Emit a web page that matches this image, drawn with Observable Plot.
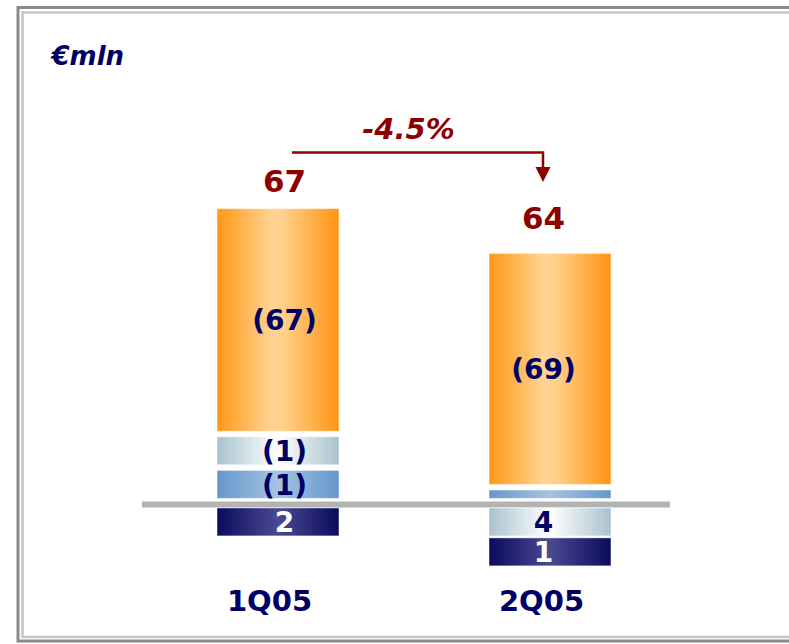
<!DOCTYPE html>
<html><head><meta charset="utf-8">
<script src="https://cdn.jsdelivr.net/npm/d3@7"></script>
<script src="https://cdn.jsdelivr.net/npm/@observablehq/plot@0.6"></script>
<style>body{margin:0;background:#fff;} #chart svg{display:block;}</style>
</head><body><div id="chart"></div>
<script>
// ---- data (€mln) ----
const categories = ["1Q05", "2Q05"];
// signed components: negatives are stacked above the line, positives below
const navyValues   = [2, 1];
const lightValues  = [-1, 4];
const mediumValues = [-1, 0];
const orangeValues = [-67, -69];
const totals = [67, 64];
const changeLabel = "-4.5%";
const unitLabel = "€mln";
// drawn segment lengths (the original chart is not drawn to scale)
const navyDrawn   = [1, 1];
const lightDrawn  = [1, 1];
const mediumDrawn = [1, 0.3];
const orangeDrawn = [7.95, 8.25];

// ---- layout / style constants ----
const NAVY = "#000066", RED = "#8E0000";
const FONT = "DejaVu Sans, Verdana, sans-serif";
const gapAbove = 0.2, gapBelow = 0.07, startAbove = 0.2, startBelow = 0.14;
const labelDx = [6, -7];
const totalDy = [-27, -35];

const seriesDefs = [
  {name: "Medium blue", values: mediumValues, drawn: mediumDrawn, fill: "url(#g-medium)", text: NAVY},
  {name: "Light blue",  values: lightValues,  drawn: lightDrawn,  fill: "url(#g-light)",  text: NAVY},
  {name: "Orange",      values: orangeValues, drawn: orangeDrawn, fill: "url(#g-orange)", text: NAVY},
  {name: "Navy",        values: navyValues,   drawn: navyDrawn,   fill: "url(#g-navy)",   text: "#ffffff"}
];

const segs = [];
const tops = [];
categories.forEach((c, i) => {
  let up = startAbove, down = -startBelow;
  seriesDefs.forEach(s => {
    const v = s.values[i], h = s.drawn[i];
    if (v <= 0) {
      segs.push({cat: c, series: s.name, value: v, y1: up, y2: up + h, fill: s.fill, color: s.text,
                 label: v === 0 ? "" : "(" + Math.abs(v) + ")"});
      up += h + gapAbove;
    } else {
      segs.push({cat: c, series: s.name, value: v, y1: down, y2: down - h, fill: s.fill, color: s.text,
                 label: String(v)});
      down -= h + gapBelow;
    }
  });
  tops.push(up - gapAbove);
});
const totalData = categories.map((c, i) => ({cat: c, top: tops[i], total: totals[i]}));

const grads = [
  {id: "g-orange", stops: [[0, "#FF9714"], [0.45, "#FFD493"], [0.55, "#FFD08A"], [1, "#FF9412"]]},
  {id: "g-light",  stops: [[0, "#A9C3CF"], [0.5, "#FFFFFF"], [1, "#A9C3CF"]]},
  {id: "g-medium", stops: [[0, "#6597CB"], [0.5, "#A6C3E2"], [1, "#6597CB"]]},
  {id: "g-navy",   stops: [[0, "#0B0B5E"], [0.5, "#4A4A92"], [1, "#0B0B5E"]]}
];

function defsMark() {
  const defs = d3.create("svg:defs");
  grads.forEach(g => {
    const lg = defs.append("linearGradient").attr("id", g.id)
      .attr("x1", 0).attr("x2", 1).attr("y1", 0).attr("y2", 0);
    g.stops.forEach(([o, col]) => lg.append("stop").attr("offset", o).attr("stop-color", col));
  });
  return defs.node();
}

function frameMark(index, scales, values, dims) {
  const g = d3.create("svg:g").attr("fill", "none");
  g.append("rect").attr("x", 18).attr("y", 7.5).attr("width", dims.width + 20).attr("height", 633.5)
    .attr("stroke", "#8a8a8a").attr("stroke-width", 3);
  g.append("rect").attr("x", 22.5).attr("y", 12.5).attr("width", dims.width + 20).attr("height", 624.5)
    .attr("stroke", "#c4c4c4").attr("stroke-width", 2.5);
  return g.node();
}

function annotationMark(index, scales) {
  const x = scales.x, y = scales.y;
  const bw = x.bandwidth ? x.bandwidth() : 0;
  const cx = c => x(c) + bw / 2;
  const sx = cx(categories[0]) + labelDx[0] + 8;
  const ex = cx(categories[1]) + labelDx[1];
  const ly = y(tops[0] + 2.0);
  const tip = y(tops[1] + 2.55);
  const g = d3.create("svg:g");
  g.append("path").attr("d", `M${sx},${ly}H${ex}V${tip - 14}`)
    .attr("fill", "none").attr("stroke", RED).attr("stroke-width", 2.5);
  g.append("path").attr("d", `M${ex - 7.5},${tip - 15}L${ex + 7.5},${tip - 15}L${ex},${tip}Z`).attr("fill", RED);
  g.append("text").attr("x", (sx + ex) / 2 - 9).attr("y", ly - 14)
    .attr("text-anchor", "middle").attr("fill", RED)
    .attr("font-family", FONT).attr("font-weight", "bold").attr("font-style", "italic")
    .attr("font-size", 29).text(changeLabel);
  return g.node();
}

const marks = [
  frameMark,
  defsMark,
  Plot.ruleY([0], {stroke: "#b3b3b3", strokeWidth: 6, insetLeft: 142, insetRight: 119}),
  Plot.barY(segs, {x: "cat", y1: "y1", y2: "y2", fill: "fill", stroke: "#ffffff", strokeOpacity: 0.5, strokeWidth: 1}),
  annotationMark,
  Plot.text([unitLabel], {frameAnchor: "top-left", dx: 51, dy: 46, text: d => d, fill: NAVY,
    fontFamily: FONT, fontWeight: "bold", fontStyle: "italic", fontSize: 26, textAnchor: "start", lineAnchor: "top"})
];
categories.forEach((c, i) => {
  marks.push(Plot.text(segs.filter(s => s.cat === c), {
    x: "cat", y: d => (d.y1 + d.y2) / 2, text: "label", fill: "color", dx: labelDx[i], dy: 1,
    fontFamily: FONT, fontWeight: "bold", fontSize: 28, lineAnchor: "middle"
  }));
  marks.push(Plot.text(totalData.filter(d => d.cat === c), {
    x: "cat", y: "top", text: d => String(d.total), fill: RED, dx: labelDx[i], dy: totalDy[i],
    fontFamily: FONT, fontWeight: "bold", fontSize: 31, lineAnchor: "middle"
  }));
});
marks.push(Plot.text(categories, {
  x: d => d, frameAnchor: "bottom", text: d => d, fill: NAVY, dx: -9, dy: 6, lineAnchor: "top",
  fontFamily: FONT, fontWeight: "bold", fontSize: 29
}));

const chart = Plot.plot({
  width: 789,
  height: 644,
  marginTop: 0, marginRight: 0, marginLeft: 0, marginBottom: 60,
  x: {type: "band", domain: categories, range: [142, 686], paddingInner: 0.5515, paddingOuter: 0.2757, axis: null},
  y: {domain: [-80 / 28, 18], axis: null},
  color: {type: "identity"},
  style: {background: "#ffffff", fontFamily: FONT, overflow: "visible"},
  marks
});
document.getElementById("chart").appendChild(chart);
</script>
</body></html>
